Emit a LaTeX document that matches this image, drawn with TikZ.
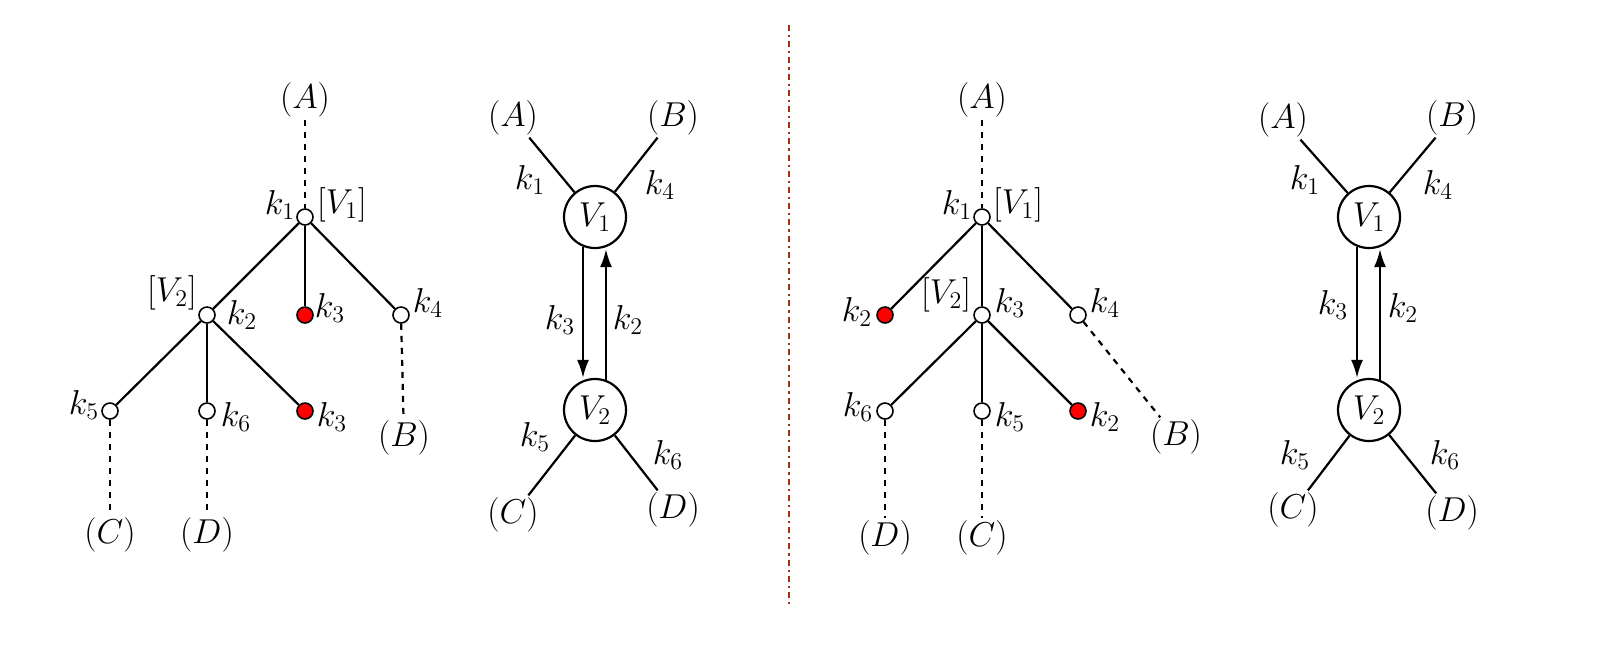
\documentclass[tikz,border=0pt]{standalone}
\usetikzlibrary{arrows.meta}
\tikzset{
  vtx/.style={circle,draw=black,fill=white,inner sep=0pt,minimum size=8pt,line width=0.8pt},
  rvtx/.style={vtx,fill=red},
  bigv/.style={circle,draw=black,fill=white,inner sep=0pt,minimum size=31pt,line width=1.1pt},
  lbl/.style={inner sep=1pt,font=\LARGE},
  edge/.style={line width=1.1pt},
  dedge/.style={line width=1.1pt,dashed},
  flow/.style={line width=1.1pt,-{Latex[length=9pt,width=6pt]}}
}
\begin{document}
\begin{tikzpicture}[x=0.5pt,y=-0.5pt]
  \useasboundingbox (0,0) rectangle (1620,645);
  % first tree
  \node[lbl] (a1) at (305,100) {$(A)$};
  \node[vtx] (v1) at (305,217) {};
  \node[lbl] at (280,205) {$k_1$};
  \node[lbl] at (342,205) {$[V_1]$};
  \node[vtx] (v2) at (207,315) {};
  \node[lbl] at (172,293) {$[V_2]$};
  \node[lbl] at (242,315) {$k_2$};
  \node[rvtx] (r1) at (305,315) {};
  \node[lbl] at (330,308) {$k_3$};
  \node[vtx] (k4) at (401,315) {};
  \node[lbl] at (428,303) {$k_4$};
  \node[vtx] (k5) at (110,411) {};
  \node[lbl] at (84,405) {$k_5$};
  \node[vtx] (k6) at (207,411) {};
  \node[lbl] at (236,417) {$k_6$};
  \node[rvtx] (r2) at (305,411) {};
  \node[lbl] at (332,417) {$k_3$};
  \node[lbl] (b1) at (404,438) {$(B)$};
  \node[lbl] (c1) at (110,535) {$(C)$};
  \node[lbl] (d1) at (207,535) {$(D)$};
  \draw[dedge] (a1) -- (v1);
  \draw[edge] (v1) -- (v2);
  \draw[edge] (v1) -- (r1);
  \draw[edge] (v1) -- (k4);
  \draw[edge] (v2) -- (k5);
  \draw[edge] (v2) -- (k6);
  \draw[edge] (v2) -- (r2);
  \draw[dedge] (k4) -- (b1);
  \draw[dedge] (k5) -- (c1);
  \draw[dedge] (k6) -- (d1);
  % first vertex graph
  \node[bigv] (w1) at (595,217) {\LARGE$V_1$};
  \node[bigv] (w2) at (595,410) {\LARGE$V_2$};
  \node[lbl] (a2) at (513,118) {$(A)$};
  \node[lbl] (b2) at (673,118) {$(B)$};
  \node[lbl] (c2) at (513,515) {$(C)$};
  \node[lbl] (d2) at (673,510) {$(D)$};
  \draw[edge] (a2) -- (w1);
  \draw[edge] (b2) -- (w1);
  \draw[edge] (c2) -- (w2);
  \draw[edge] (d2) -- (w2);
  \draw[flow] (w1.south) ++(-12,-2) coordinate (s1) -- (s1 |- w2.north);
  \draw[flow] (w2.north) ++(11,2) coordinate (s2) -- (s2 |- w1.south);
  \node[lbl] at (530,180) {$k_1$};
  \node[lbl] at (660,185) {$k_4$};
  \node[lbl] at (560,320) {$k_3$};
  \node[lbl] at (628,320) {$k_2$};
  \node[lbl] at (535,437) {$k_5$};
  \node[lbl] at (668,455) {$k_6$};
  % separator
  \draw[line width=1.1pt,dash dot,color={rgb,255:red,160;green,50;blue,20}] (789,25) -- (789,605);
  % second tree
  \node[lbl] (a3) at (982,100) {$(A)$};
  \node[vtx] (u1) at (982,217) {};
  \node[lbl] at (957,205) {$k_1$};
  \node[lbl] at (1018,205) {$[V_1]$};
  \node[rvtx] (q1) at (885,315) {};
  \node[lbl] at (857,312) {$k_2$};
  \node[vtx] (u2) at (982,315) {};
  \node[lbl] at (946,295) {$[V_2]$};
  \node[lbl] at (1010,303) {$k_3$};
  \node[vtx] (m4) at (1078,315) {};
  \node[lbl] at (1105,303) {$k_4$};
  \node[vtx] (m6) at (885,411) {};
  \node[lbl] at (858,407) {$k_6$};
  \node[vtx] (m5) at (982,411) {};
  \node[lbl] at (1010,417) {$k_5$};
  \node[rvtx] (q2) at (1078,411) {};
  \node[lbl] at (1105,417) {$k_2$};
  \node[lbl] (b3) at (1176,437) {$(B)$};
  \node[lbl] (d3) at (885,538) {$(D)$};
  \node[lbl] (c3) at (982,538) {$(C)$};
  \draw[dedge] (a3) -- (u1);
  \draw[edge] (u1) -- (q1);
  \draw[edge] (u1) -- (u2);
  \draw[edge] (u1) -- (m4);
  \draw[edge] (u2) -- (m6);
  \draw[edge] (u2) -- (m5);
  \draw[edge] (u2) -- (q2);
  \draw[dedge] (m4) -- (b3);
  \draw[dedge] (m6) -- (d3);
  \draw[dedge] (m5) -- (c3);
  % second vertex graph
  \node[bigv] (x1) at (1369,217) {\LARGE$V_1$};
  \node[bigv] (x2) at (1369,410) {\LARGE$V_2$};
  \node[lbl] (a4) at (1283,120) {$(A)$};
  \node[lbl] (b4) at (1452,118) {$(B)$};
  \node[lbl] (c4) at (1293,510) {$(C)$};
  \node[lbl] (d4) at (1452,513) {$(D)$};
  \draw[edge] (a4) -- (x1);
  \draw[edge] (b4) -- (x1);
  \draw[edge] (c4) -- (x2);
  \draw[edge] (d4) -- (x2);
  \draw[flow] (x1.south) ++(-12,-2) coordinate (t1) -- (t1 |- x2.north);
  \draw[flow] (x2.north) ++(11,2) coordinate (t2) -- (t2 |- x1.south);
  \node[lbl] at (1305,180) {$k_1$};
  \node[lbl] at (1438,185) {$k_4$};
  \node[lbl] at (1333,305) {$k_3$};
  \node[lbl] at (1403,308) {$k_2$};
  \node[lbl] at (1295,455) {$k_5$};
  \node[lbl] at (1445,455) {$k_6$};
\end{tikzpicture}
\end{document}
